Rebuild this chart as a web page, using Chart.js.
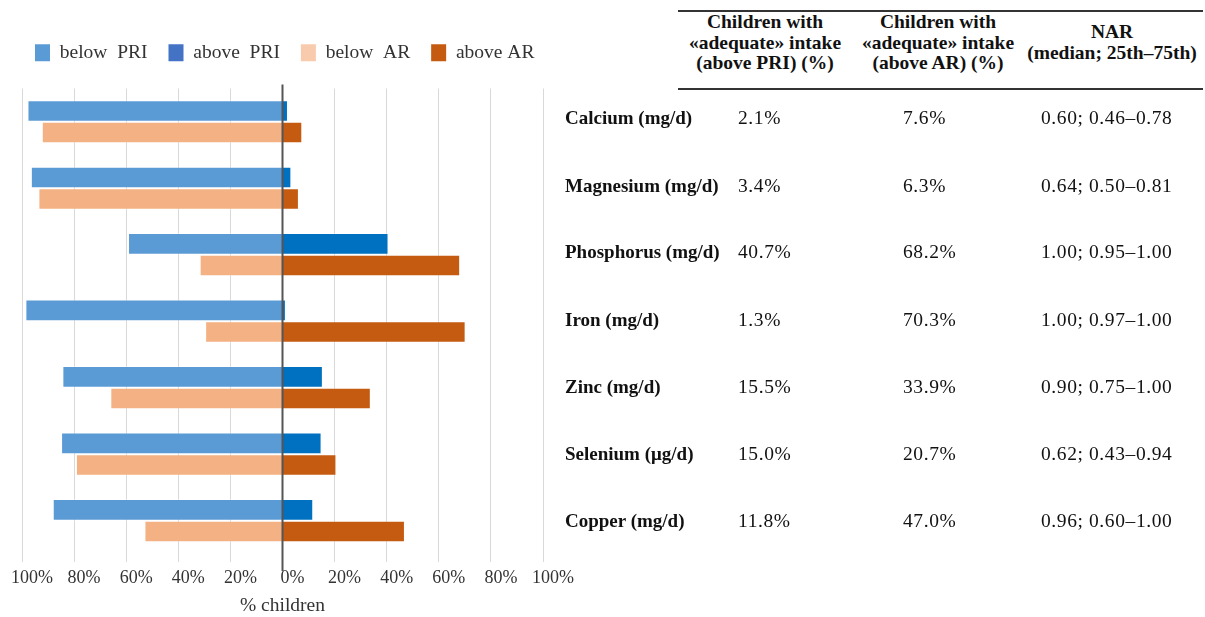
<!DOCTYPE html>
<html>
<head>
<meta charset="utf-8">
<script src="https://cdn.jsdelivr.net/npm/chart.js@4.4.0/dist/chart.umd.min.js"></script>
<style>
  html, body { margin: 0; padding: 0; background: #fff; }
  body { width: 1205px; height: 617px; position: relative; overflow: hidden;
         font-family: "Liberation Serif", serif; color: #111; }
  #chartBox { position: absolute; left: 0; top: 0; width: 600px; height: 617px; }
  .rule { position: absolute; left: 678px; width: 525px; height: 1.5px; background: #333; }
  .hd { position: absolute; font-weight: bold; font-size: 19.5px; line-height: 20.5px;
        text-align: center; white-space: nowrap; }
  .cell { position: absolute; font-size: 19.5px; line-height: 24px; white-space: nowrap; }
  .num { letter-spacing: 0.6px; }
  .name { font-weight: bold; font-size: 19px; }
</style>
</head>
<body>
<div id="chartBox"><canvas id="chart"></canvas></div>

<div class="rule" style="top:10px"></div>
<div class="hd" style="left:665px;width:200px;top:12px">Children with<br>«adequate» intake<br>(above PRI) (%)</div>
<div class="hd" style="left:838px;width:200px;top:12px">Children with<br>«adequate» intake<br>(above AR) (%)</div>
<div class="hd" style="left:1012px;width:200px;top:22px">NAR<br>(median; 25th–75th)</div>
<div class="rule" style="top:88px"></div>
<div id="rows"></div>

<script>
// ── Data ────────────────────────────────────────────────
const nutrients = ['Calcium (mg/d)', 'Magnesium (mg/d)', 'Phosphorus (mg/d)', 'Iron (mg/d)',
                   'Zinc (mg/d)', 'Selenium (μg/d)', 'Copper (mg/d)'];
const belowPRI = [-97.9, -96.6, -59.3, -98.7, -84.5, -85.0, -88.2];
const abovePRI = [2.1, 3.4, 40.7, 1.3, 15.5, 15.0, 11.8];
const belowAR = [-92.4, -93.7, -31.8, -29.7, -66.1, -79.3, -53.0];
const aboveAR = [7.6, 6.3, 68.2, 70.3, 33.9, 20.7, 47.0];
const narValues = ['0.60; 0.46–0.78', '0.64; 0.50–0.81', '1.00; 0.95–1.00', '1.00; 0.97–1.00',
                   '0.90; 0.75–1.00', '0.62; 0.43–0.94', '0.96; 0.60–1.00'];
const xTicks = [-100, -80, -60, -40, -20, 0, 20, 40, 60, 80, 100];

// ── Table rows (right side) ─────────────────────────────
const rowCenters = [118, 186, 252, 320, 387, 454, 521];
const rowsEl = document.getElementById('rows');
nutrients.forEach((n, i) => {
  const top = rowCenters[i] - 12;
  rowsEl.insertAdjacentHTML('beforeend', `
    <div class="cell name" style="left:565px;top:${top}px">${n}</div>
    <div class="cell num" style="left:738px;top:${top}px">${abovePRI[i].toFixed(1)}%</div>
    <div class="cell num" style="left:903px;top:${top}px">${aboveAR[i].toFixed(1)}%</div>
    <div class="cell num" style="left:1041px;top:${top}px">${narValues[i]}</div>`);
});

// ── Chart ───────────────────────────────────────────────
const legendColors = ['#5B9BD5', '#4472C4', '#F8CBAD', '#C55A11'];

// dark vertical line at 0%, a bit longer than the plot area
const zeroLine = {
  id: 'zeroLine',
  afterDatasetsDraw(chart) {
    const x = chart.scales.x.getPixelForValue(0);
    const { top, bottom } = chart.chartArea;
    const ctx = chart.ctx;
    ctx.save();
    ctx.strokeStyle = '#555';
    ctx.lineWidth = 2;
    ctx.beginPath();
    ctx.moveTo(x, top - 4);
    ctx.lineTo(x, bottom + 17);
    ctx.stroke();
    ctx.restore();
  }
};

// legend: one row, starting at the left edge, with space under it
const legendGap = {
  id: 'legendGap',
  beforeInit(chart) {
    const fit = chart.legend.fit;
    chart.legend.fit = function () {
      this.maxWidth = Math.max(this.maxWidth, 2000);
      fit.call(this);
      this.height += 16;
    };
  },
  afterLayout(chart) {
    const lg = chart.legend;
    lg.left = 35 - lg.options.labels.padding;
    lg.right = 600;
  }
};

const bar = (label, data, color, stack) => ({
  label, data, stack,
  backgroundColor: color,
  borderColor: 'rgba(255,255,255,0.35)',
  borderWidth: 1,
  barPercentage: 1,
  categoryPercentage: 0.65
});

new Chart(document.getElementById('chart'), {
  type: 'bar',
  data: {
    labels: nutrients,
    datasets: [
      bar('below  PRI', belowPRI, '#5B9BD5', 'PRI'),
      bar('above  PRI', abovePRI, '#0070C0', 'PRI'),
      bar('below  AR', belowAR, '#F4B183', 'AR'),
      bar('above AR', aboveAR, '#C55A11', 'AR')
    ]
  },
  plugins: [zeroLine, legendGap],
  options: {
    indexAxis: 'y',
    responsive: true,
    maintainAspectRatio: false,
    animation: false,
    layout: { padding: { top: 22, left: 22, right: 57, bottom: 0 } },
    plugins: {
      tooltip: { enabled: false },
      legend: {
        position: 'top',
        align: 'start',
        labels: {
          boxWidth: 15,
          boxHeight: 17,
          padding: 21,
          color: '#333',
          font: { family: 'Liberation Serif', size: 19.5 },
          generateLabels(chart) {
            const items = Chart.defaults.plugins.legend.labels.generateLabels(chart);
            items.forEach(it => {
              it.fillStyle = legendColors[it.datasetIndex];
              it.strokeStyle = legendColors[it.datasetIndex];
              it.lineWidth = 0;
            });
            return items;
          }
        }
      }
    },
    scales: {
      x: {
        type: 'linear',
        stacked: true,
        min: -100,
        max: 100,
        afterBuildTicks(scale) { scale.ticks = xTicks.map(v => ({ value: v })); },
        afterFit(scale) { scale.paddingLeft = 0; scale.paddingRight = 0; },
        ticks: {
          color: '#333',
          padding: 6,
          labelOffset: 10,
          maxRotation: 0,
          font: { family: 'Liberation Serif', size: 18 },
          callback: v => Math.abs(v) + '%'
        },
        grid: { color: '#D9D9D9', lineWidth: 1, tickLength: 8, drawTicks: true },
        border: { display: false },
        title: {
          display: true,
          text: '% children',
          color: '#333',
          padding: { top: 0, bottom: 0 },
          font: { family: 'Liberation Serif', size: 19.5, lineHeight: 1.1 }
        }
      },
      y: {
        type: 'category',
        display: false
      }
    }
  }
});
</script>
</body>
</html>
